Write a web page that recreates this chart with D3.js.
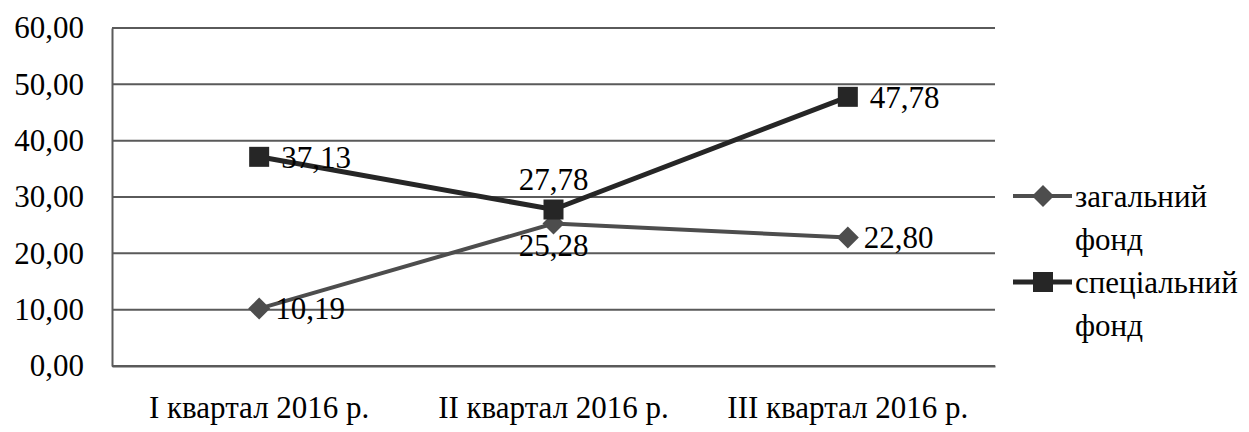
<!DOCTYPE html>
<html>
<head>
<meta charset="utf-8">
<script src="https://cdn.jsdelivr.net/npm/d3@7"></script>
<style>
  html, body { margin: 0; padding: 0; background: #fff; }
  svg { display: block; }
</style>
</head>
<body>
<svg id="chart" width="1249" height="432"></svg>
<script>
const categories = ["I квартал 2016 р.", "II квартал 2016 р.", "III квартал 2016 р."];
const seriesNames = ["загальний фонд", "спеціальний фонд"];
const generalFund = [10.19, 25.28, 22.80];
const specialFund = [37.13, 27.78, 47.78];
const generalLabels = ["10,19", "25,28", "22,80"];
const specialLabels = ["37,13", "27,78", "47,78"];
const generalLabelPos = ["right", "below", "right"];
const specialLabelPos = ["right", "above", "right"];
const yTicks = [0, 10, 20, 30, 40, 50, 60];

const FONT = "'Liberation Serif', 'Times New Roman', Tinos, 'DejaVu Serif', serif";
const svg = d3.select("#chart");
const W = 1249, H = 432;
const margin = { left: 112, right: 254, top: 28, bottom: 66 };
const plotW = W - margin.left - margin.right;
const plotH = H - margin.top - margin.bottom;

const x = d3.scaleBand().domain(categories).range([margin.left, margin.left + plotW]).padding(0);
const y = d3.scaleLinear().domain([0, 60]).range([margin.top + plotH, margin.top]);
const fmt = v => d3.format(".2f")(v).replace(".", ",");

const gridColor = "#5a5a5a";
const fontSize = 31;
const styleText = sel => sel.style("font-family", FONT).style("font-size", fontSize + "px").style("fill", "#000");

// gridlines
svg.append("g").selectAll("line").data(yTicks).join("line")
  .attr("x1", margin.left).attr("x2", margin.left + plotW)
  .attr("y1", d => y(d)).attr("y2", d => y(d))
  .attr("stroke", gridColor).attr("stroke-width", 2);

// y axis
const yAxis = d3.axisLeft(y).tickValues(yTicks).tickFormat(fmt).tickSize(0).tickPadding(28);
const gy = svg.append("g").attr("transform", `translate(${margin.left},0)`).call(yAxis);
gy.attr("font-family", null);
gy.select(".domain").attr("stroke", gridColor).attr("stroke-width", 2);
gy.selectAll("text").call(styleText);

// x axis
const xAxis = d3.axisBottom(x).tickSize(0).tickPadding(30);
const gx = svg.append("g").attr("transform", `translate(0,${margin.top + plotH})`).call(xAxis);
gx.attr("font-family", null);
gx.select(".domain").attr("stroke", gridColor).attr("stroke-width", 2);
gx.selectAll("text").call(styleText).attr("dy", "0.71em");

const cx = c => x(c) + x.bandwidth() / 2;

const series = [
  { name: seriesNames[0], values: generalFund, labels: generalLabels, pos: generalLabelPos, color: "#4d4d4d", width: 4, marker: "diamond" },
  { name: seriesNames[1], values: specialFund, labels: specialLabels, pos: specialLabelPos, color: "#262626", width: 5, marker: "square" }
];

const line = d3.line().x((d, i) => cx(categories[i])).y(d => y(d));

function drawMarker(g, type, color) {
  if (type === "diamond") {
    g.append("path").attr("d", "M0,-11 L11,0 L0,11 L-11,0 Z").attr("fill", color);
  } else {
    g.append("rect").attr("x", -10).attr("y", -10).attr("width", 20).attr("height", 20).attr("fill", color);
  }
}

series.forEach(s => {
  svg.append("path").datum(s.values).attr("d", line)
    .attr("fill", "none").attr("stroke", s.color).attr("stroke-width", s.width);
});

series.forEach(s => {
  s.values.forEach((v, i) => {
    const g = svg.append("g").attr("transform", `translate(${cx(categories[i])},${y(v)})`);
    drawMarker(g, s.marker, s.color);
  });
});

// data labels
series.forEach(s => {
  s.values.forEach((v, i) => {
    const px = cx(categories[i]), py = y(v);
    const t = svg.append("text").text(s.labels[i]).call(styleText);
    if (s.pos[i] === "right") {
      t.attr("x", px + (s.marker === "diamond" ? 16 : 22)).attr("y", py).attr("dy", "0.35em").attr("text-anchor", "start");
    } else if (s.pos[i] === "above") {
      t.attr("x", px).attr("y", py - 20).attr("text-anchor", "middle");
    } else {
      t.attr("x", px).attr("y", py + 10).attr("dy", "0.71em").attr("text-anchor", "middle");
    }
  });
});

// legend
const legendX = 1013, legendY = [196, 282], lineGap = 43;
series.forEach((s, k) => {
  const g = svg.append("g").attr("transform", `translate(${legendX},${legendY[k]})`);
  g.append("line").attr("x1", 0).attr("x2", 59).attr("y1", 0).attr("y2", 0)
    .attr("stroke", s.color).attr("stroke-width", s.width);
  const m = g.append("g").attr("transform", "translate(30,0)");
  drawMarker(m, s.marker, s.color);
  const words = s.name.split(" ");
  words.forEach((w, j) => {
    g.append("text").text(w).attr("x", 62).attr("y", j * lineGap).attr("dy", "0.35em").call(styleText);
  });
});
</script>
</body>
</html>
